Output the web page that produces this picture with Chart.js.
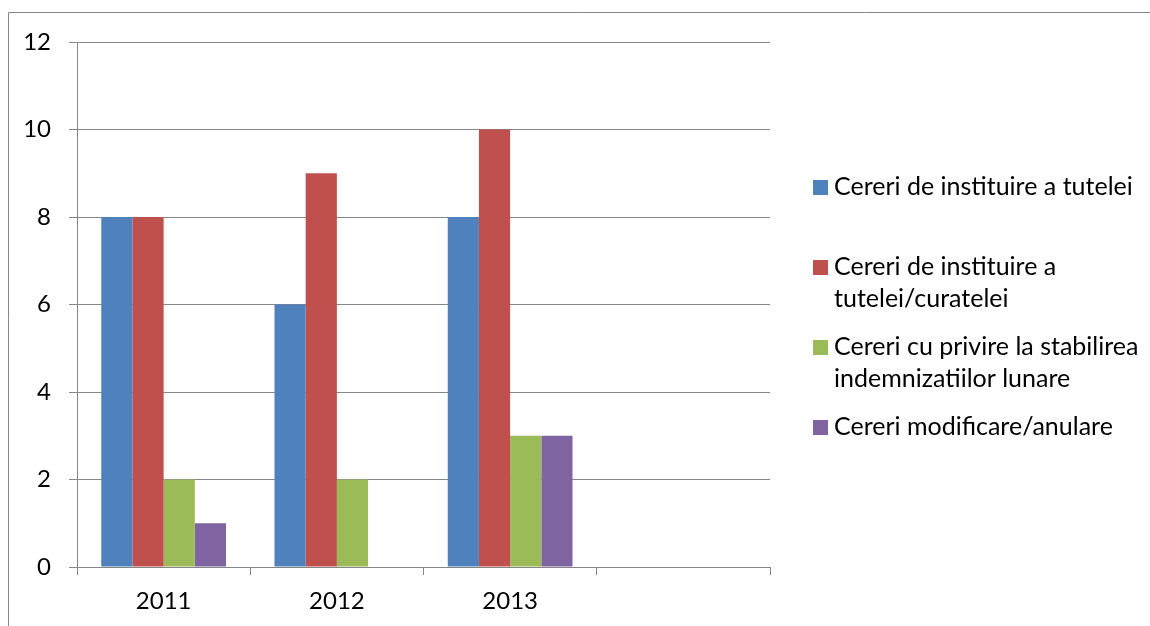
<!DOCTYPE html>
<html>
<head>
<meta charset="utf-8">
<title>Cereri tutela</title>
<script src="https://cdn.jsdelivr.net/npm/chart.js@4/dist/chart.umd.min.js"></script>
<style>
  body { margin: 0; background: #fff; }
  canvas { display: block; }
</style>
</head>
<body>
<canvas id="myChart" width="1150" height="626"></canvas>
<script>
// categories (last slot is empty, as in the original sheet)
const years = ['2011', '2012', '2013', ''];

const instituireTutela = [8, 6, 8, null];
const instituireCuratela = [8, 9, 10, null];
const indemnizatii = [2, 2, 3, null];
const modificareAnulare = [1, 0, 3, null];

// legend text, already broken into lines like in the picture
const seriesLines = [
    ['Cereri de instituire a tutelei'],
    ['Cereri de instituire a', 'tutelei/curatelei'],
    ['Cereri cu privire la stabilirea', 'indemnizatiilor lunare'],
    ['Cereri modificare/anulare']
];
const seriesColors = ['#4F81BD', '#C0504D', '#9BBB59', '#8064A2'];

const yTicks = [0, 2, 4, 6, 8, 10, 12];

const fontFamily = 'Lato, "Open Sans", sans-serif';
const gridColor = '#868686';

// white page + outer frame
const framePlugin = {
    id: 'frame',
    beforeDraw(chart) {
        let ctx = chart.ctx;
        ctx.save();
        ctx.fillStyle = '#fff';
        ctx.fillRect(0, 0, chart.width, chart.height);
        ctx.restore();
    },
    afterDraw(chart) {
        let ctx = chart.ctx;
        ctx.save();
        ctx.strokeStyle = gridColor;
        ctx.lineWidth = 1;
        ctx.beginPath();
        ctx.moveTo(8.5, chart.height);
        ctx.lineTo(8.5, 12.5);
        ctx.lineTo(chart.width, 12.5);
        ctx.stroke();
        ctx.restore();
    }
};

// legend on the right, drawn by hand so long names can wrap
const sideLegend = {
    id: 'sideLegend',
    afterDraw(chart) {
        let ctx = chart.ctx;
        ctx.save();
        ctx.font = '25px ' + fontFamily;
        ctx.textBaseline = 'middle';
        ctx.textAlign = 'left';
        chart.data.datasets.forEach(function(ds, i) {
            let y = 187 + i * 80;
            ctx.fillStyle = ds.backgroundColor;
            ctx.fillRect(813, y - 7, 15, 15);
            ctx.fillStyle = '#000';
            ds.lines.forEach(function(line, j) {
                ctx.fillText(line, 834, y + j * 31.5);
            });
        });
        ctx.restore();
    }
};

const seriesData = [instituireTutela, instituireCuratela, indemnizatii, modificareAnulare];

let ctx = document.getElementById('myChart').getContext('2d');
let myChart = new Chart(ctx, {
    type: 'bar',
    data: {
        labels: years,
        datasets: seriesData.map(function(values, i) {
            return {
                label: seriesLines[i].join(' '),
                lines: seriesLines[i],
                data: values,
                backgroundColor: seriesColors[i],
                borderWidth: 0,
                categoryPercentage: 0.72,
                barPercentage: 1.0
            };
        })
    },
    options: {
        responsive: false,
        animation: false,
        layout: {
            padding: { top: 42, right: 380, bottom: 0, left: 0 }
        },
        plugins: {
            legend: { display: false },
            tooltip: { enabled: false }
        },
        scales: {
            x: {
                grid: {
                    offset: true,
                    drawOnChartArea: false,
                    drawTicks: true,
                    tickLength: 8,
                    color: gridColor
                },
                border: { color: gridColor },
                ticks: {
                    color: '#000',
                    padding: 12,
                    maxRotation: 0,
                    font: { family: fontFamily, size: 24 }
                },
                afterFit: function(scale) { scale.height = 59; }
            },
            y: {
                min: 0,
                max: 12,
                afterBuildTicks: function(scale) {
                    scale.ticks = yTicks.map(function(v) { return { value: v }; });
                },
                grid: {
                    color: gridColor,
                    tickLength: 8
                },
                border: { color: gridColor },
                ticks: {
                    color: '#000',
                    padding: 18,
                    font: { family: fontFamily, size: 24 }
                },
                afterFit: function(scale) { scale.width = 77; }
            }
        }
    },
    plugins: [framePlugin, sideLegend]
});
</script>
</body>
</html>
